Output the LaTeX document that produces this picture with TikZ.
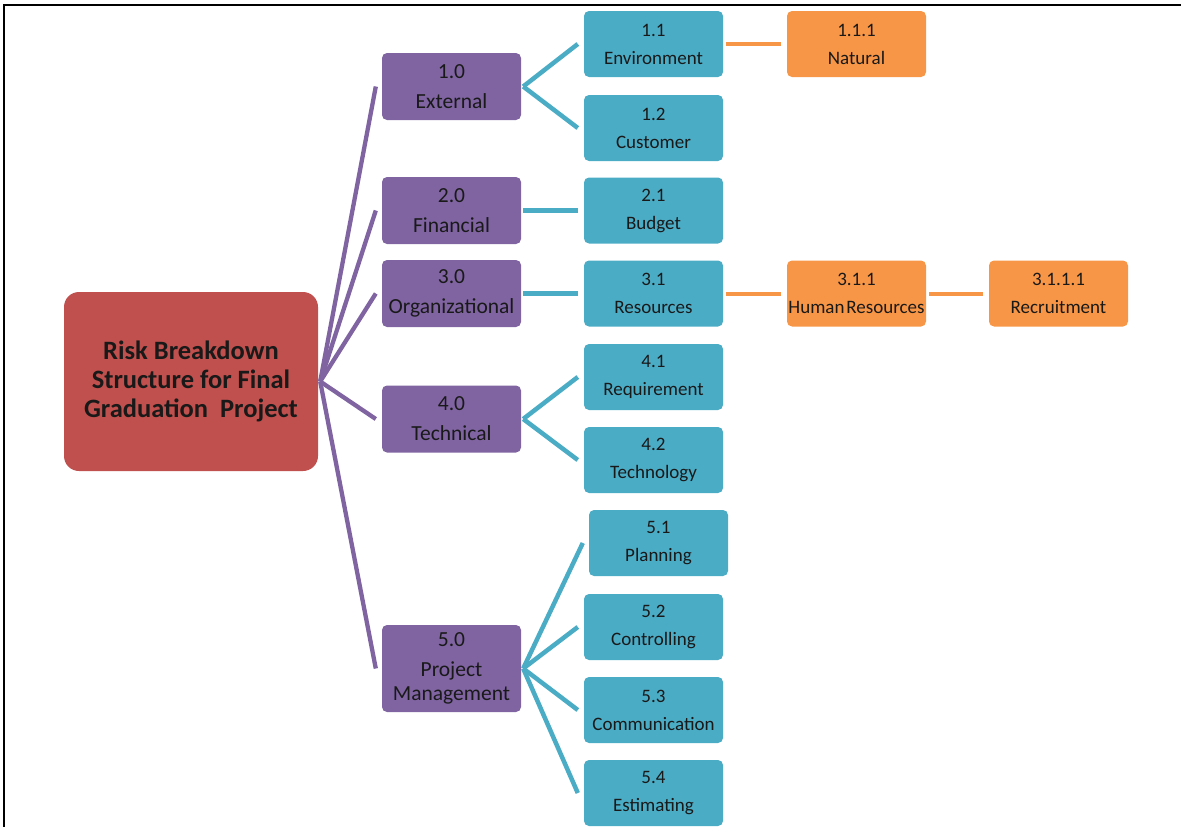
\documentclass[tikz,border=0pt]{standalone}
\usepackage{fontspec}
\setmainfont{Carlito}
\definecolor{rootred}{HTML}{C0504D}
\definecolor{lvlpurple}{HTML}{8064A2}
\definecolor{lvlblue}{HTML}{4BACC6}
\definecolor{lvlorange}{HTML}{F79646}
\tikzset{
  box/.style={rounded corners=5pt, inner sep=0pt, align=center, text=black!90},
  rootbox/.style={box, fill=rootred, rounded corners=15pt, minimum width=254pt, minimum height=179pt,
    font=\bfseries\fontsize{26.5}{29}\selectfont},
  mainbox/.style={box, fill=lvlpurple, minimum width=139pt, minimum height=67pt,
    font=\fontsize{21.5}{24}\selectfont},
  subbox/.style={box, fill=lvlblue, minimum width=139pt, minimum height=66pt,
    font=\fontsize{19}{23}\selectfont},
  leafbox/.style={box, fill=lvlorange, minimum width=139pt, minimum height=66pt,
    font=\fontsize{19}{23}\selectfont},
  mainlink/.style={draw=lvlpurple, line width=4.3pt},
  sublink/.style={draw=lvlblue, line width=4.5pt},
  leaflink/.style={draw=lvlorange, line width=4pt},
}
\begin{document}
\begin{tikzpicture}[x=1pt,y=-1pt]
\useasboundingbox (0,0) rectangle (1181,827);
% frame
\draw[line width=1.5pt, black] (4,827) -- (4,5) -- (1181,5);

% root
\node[rootbox] (root) at (191,381.5) {Risk Breakdown\\Structure for Final\\Graduation\hspace{0.45em}Project};

% level 1
\node[mainbox] (p1) at (451.5,86.5) {1.0\\[6pt]External};
\node[mainbox] (p2) at (451.5,210.5) {2.0\\[6pt]Financial};
\node[mainbox] (p3) at (451.5,293.5) {3.0\\[6pt]Organizational};
\node[mainbox] (p4) at (451.5,419) {4.0\\[6pt]Technical};
\node[mainbox, minimum height=87pt] (p5) at (451.5,668.5) {5.0\\[6pt]Project\\Management};

% level 2
\node[subbox] (c11) at (653.5,44) {1.1\\[5pt]Environment};
\node[subbox] (c12) at (653.5,128) {1.2\\[5pt]Customer};
\node[subbox] (c21) at (653.5,210.5) {2.1\\[5pt]Budget};
\node[subbox] (c31) at (653.5,293.5) {3.1\\[5pt]Resources};
\node[subbox] (c41) at (653.5,377) {4.1\\[5pt]Requirement};
\node[subbox] (c42) at (653.5,460) {4.2\\[5pt]Technology};
\node[subbox] (c51) at (658.5,543) {5.1\\[5pt]Planning};
\node[subbox] (c52) at (653.5,627) {5.2\\[5pt]Controlling};
\node[subbox] (c53) at (653.5,710) {5.3\\[5pt]Communication};
\node[subbox] (c54) at (653.5,793) {5.4\\[5pt]Estimating};

% level 3 and 4
\node[leafbox] (o111) at (856.5,44) {1.1.1\\[5pt]Natural};
\node[leafbox] (o311) at (856.5,293.5) {3.1.1\\[5pt]Human\hspace{0.1em}Resources};
\node[leafbox] (o3111) at (1058.5,293.5) {3.1.1.1\\[5pt]Recruitment};

% root to level 1
\foreach \p in {p1,p2,p3,p4,p5}
  \draw[mainlink] ([xshift=2pt]root.east) -- ([xshift=-6pt]\p.west);

% level 1 to level 2
\foreach \a/\b in {p1/c11,p1/c12,p2/c21,p3/c31,p4/c41,p4/c42,p5/c51,p5/c52,p5/c53,p5/c54}
  \draw[sublink] ([xshift=2pt]\a.east) -- ([xshift=-6pt]\b.west);

% deeper levels
\foreach \a/\b in {c11/o111,c31/o311,o311/o3111}
  \draw[leaflink] ([xshift=3pt]\a.east) -- ([xshift=-6pt]\b.west);
\end{tikzpicture}
\end{document}
